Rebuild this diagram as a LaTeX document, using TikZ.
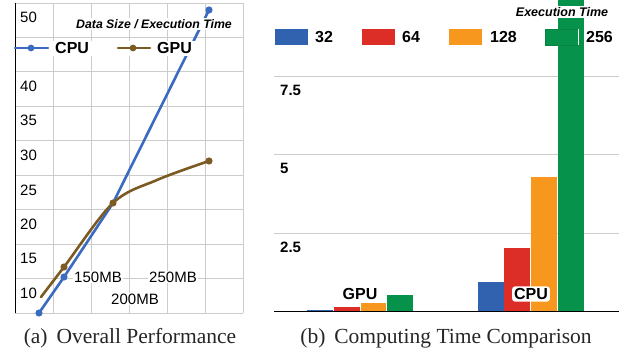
\documentclass[tikz,border=0pt]{standalone}
\usepackage{fontspec}
\setmainfont{Liberation Serif}
\setsansfont{Liberation Sans}
\definecolor{cpublue}{HTML}{3A6BC0}
\definecolor{gpubrown}{HTML}{7B5A24}
\definecolor{gridgray}{HTML}{CCCCCC}
\definecolor{barblue}{HTML}{3162B0}
\definecolor{barred}{HTML}{DC2D27}
\definecolor{barorange}{HTML}{F7971E}
\definecolor{bargreen}{HTML}{06924A}
\tikzset{
  grid line/.style={draw=gridgray, line width=0.9pt},
  tick/.style={font=\sffamily\fontsize{15}{15}\selectfont, anchor=west, inner sep=0pt},
  rtick/.style={font=\sffamily\bfseries\fontsize{15}{15}\selectfont, anchor=west, inner sep=0pt},
  leg/.style={font=\sffamily\bfseries\fontsize{16}{16}\selectfont, anchor=west, inner sep=0pt},
  mb/.style={font=\sffamily\fontsize{15}{15}\selectfont, fill=white, inner sep=1pt},
  caption/.style={font=\fontsize{21.5}{21.5}\selectfont, text=black!85},
  series/.style={line width=2.6pt, line cap=round, line join=round},
}
\begin{document}
\begin{tikzpicture}[x=1pt, y=-1pt]
\useasboundingbox (0,0) rectangle (619,355);
% ---------- left chart ----------
\foreach \yy in {3,37.4,71.9,106.3,140.8,175.2,209.7,244.1,278.6} \draw[grid line] (15,\yy) -- (243,\yy);
\foreach \xx in {53,91,129,167,205,243} \draw[grid line] (\xx,3) -- (\xx,313);
\draw[grid line] (15,313) -- (243,313);
\draw[black, line width=1pt] (15,3) -- (15,313);
\node[tick] (t50) at (20,17) {50};
\node[tick] (t40) at (20,86) {40};
\node[tick] (t35) at (20,120) {35};
\node[tick] (t30) at (20,155) {30};
\node[tick] (t25) at (20,190) {25};
\node[tick] (t20) at (20,224) {20};
\node[tick] (t15) at (20,258) {15};
\node[tick] (t10) at (20,293) {10};
% series
\draw[series, cpublue] (39,313) -- (64,277) -- (113,203) -- (209,10);
\draw[series, gpubrown] plot[smooth, tension=0.55] coordinates {(41,297) (64,267) (113,203) (157,180) (209,161)};
\foreach \p in {(39,313),(64,277),(209,10)} \fill[cpublue] \p circle (3.6);
\foreach \p in {(64,267),(113,203),(209,161)} \fill[gpubrown] \p circle (3.6);
% labels
\node[mb] (l150) at (98,277) {150MB};
\node[mb] (l250) at (173,277) {250MB};
\node[mb] (l200) at (135,299) {200MB};
% title & legend
\node[fill=white, inner sep=1pt, font=\sffamily\bfseries\itshape\fontsize{12.3}{12.3}\selectfont] (ttl) at (154,24) {Data Size / Execution Time};
\fill[white] (16,41) rectangle (195,56);
\draw[series, cpublue] (15,48) -- (48,48);
\fill[cpublue] (31,48) circle (3.4);
\node[leg] (lcpu) at (55,48) {CPU};
\draw[series, gpubrown] (118,48) -- (150,48);
\fill[gpubrown] (133,48) circle (3.4);
\node[leg] (lgpu) at (157,48) {GPU};
\node[caption] (capa) at (130,338) {(a)\, Overall Performance};
% ---------- right chart ----------
\foreach \yy in {76,154,233} \draw[grid line] (274,\yy) -- (619,\yy);
\node[rtick] (r75) at (280,90) {7.5};
\node[rtick] (r5) at (280,168) {5};
\node[rtick] (r25) at (280,247) {2.5};
% bars GPU
\fill[barblue] (307,310) rectangle (333,312);
\fill[barred] (334,307) rectangle (360,312);
\fill[barorange] (360.5,303) rectangle (386,312);
\fill[bargreen] (387,295) rectangle (413,312);
% bars CPU
\fill[barblue] (478,282) rectangle (503.5,312);
\fill[barred] (504,248) rectangle (530,312);
\fill[barorange] (531,177) rectangle (557,312);
\fill[bargreen] (558,0) rectangle (584,312);
\draw[black, line width=1pt] (274,312) -- (619,312);
\node[font=\sffamily\bfseries\fontsize{16}{16}\selectfont, inner sep=0pt] (gpu) at (360,294) {GPU};
\node[font=\sffamily\bfseries\fontsize{16}{16}\selectfont, fill=white, rounded corners=3pt, inner sep=2pt] (cpu) at (531,294) {CPU};
% legend
\node[fill=white, inner sep=1pt, font=\sffamily\bfseries\itshape\fontsize{12.5}{12.5}\selectfont] (exec) at (562,12) {Execution Time};
\fill[barblue] (275,29) rectangle (308,45);
\node[leg, fill=white, inner sep=1pt] (k32) at (314,37) {32};
\fill[barred] (362,29) rectangle (395,45);
\node[leg, fill=white, inner sep=1pt] (k64) at (401,37) {64};
\fill[barorange] (449,29) rectangle (482,45);
\node[leg, fill=white, inner sep=1pt] (k128) at (489,37) {128};
\draw[bargreen!90!black, fill=bargreen] (545,29) rectangle (578,45);
\draw[white, line width=1pt] (578.5,29) -- (578.5,45);
\node[leg, fill=white, inner sep=1pt] (k256) at (585,37) {256};
\node[caption] (capb) at (446,338) {(b)\, Computing Time Comparison};
\end{tikzpicture}
\end{document}
